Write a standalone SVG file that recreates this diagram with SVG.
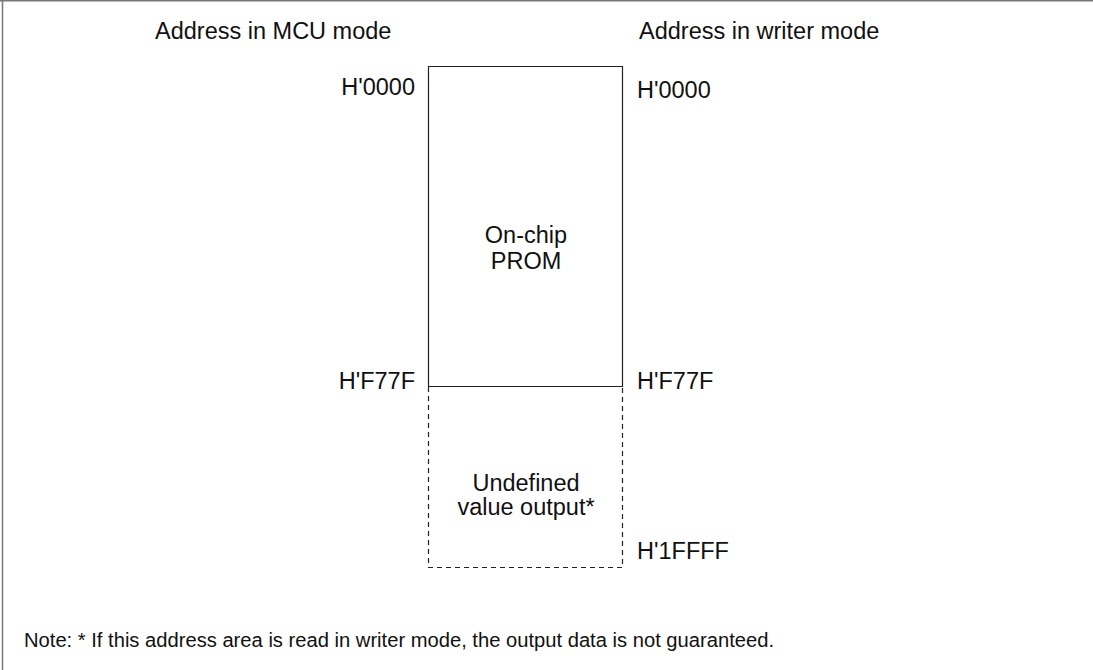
<svg xmlns="http://www.w3.org/2000/svg" width="1093" height="670" viewBox="0 0 1093 670">
<style>
text{font-family:"Liberation Sans",Arial,sans-serif;font-size:23.5px;fill:#111}
.frame{stroke:#777;stroke-width:1.5;fill:none}
.box{stroke:#222;stroke-width:1.2;fill:none}
.dash{stroke:#222;stroke-width:1.2;fill:none;stroke-dasharray:5,4}
.r{text-anchor:end}
.m{text-anchor:middle}
.note{font-size:20px}
</style>
<rect width="1093" height="670" fill="#fff"/>
<g id="frame">
<line class="frame" x1="0" y1="0.75" x2="1093" y2="0.75"/>
<line class="frame" x1="2.5" y1="0" x2="2.5" y2="670"/>
</g>
<g id="headers">
<text x="155" y="39">Address in MCU mode</text>
<text x="639" y="39">Address in writer mode</text>
</g>
<g id="prom">
<path class="box" d="M428.5,66.5 H622.5 V386.5 H428.5 Z"/>
<text class="m" x="526" y="243">On-chip</text>
<text class="m" x="526" y="269">PROM</text>
</g>
<g id="undefined">
<path class="dash" d="M428.5,387 V567.5 H622.5 V387"/>
<text class="m" x="526" y="491">Undefined</text>
<text class="m" x="526" y="515">value output*</text>
</g>
<g id="addresses">
<text class="r" x="415" y="95">H'0000</text>
<text x="637" y="98">H'0000</text>
<text class="r" x="415" y="389">H'F77F</text>
<text x="637" y="389">H'F77F</text>
<text x="637" y="559">H'1FFFF</text>
</g>
<g id="connectors"></g>
<text class="note" x="24" y="647" textLength="750" lengthAdjust="spacingAndGlyphs">Note:  *  If this address area is read in writer mode, the output data is not guaranteed.</text>
</svg>
